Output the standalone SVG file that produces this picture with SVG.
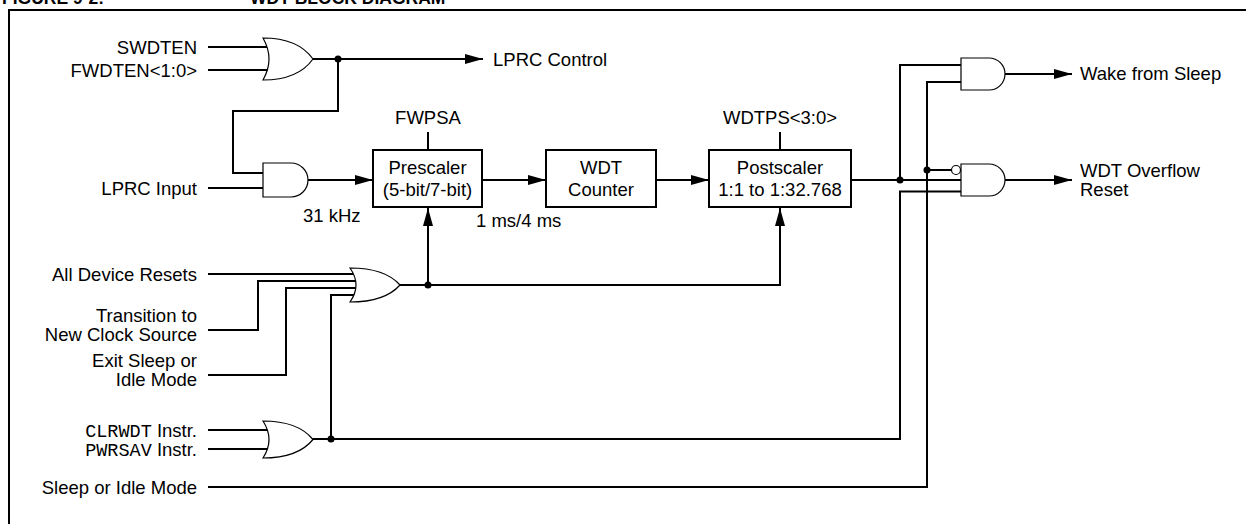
<svg xmlns="http://www.w3.org/2000/svg" width="1246" height="524" viewBox="0 0 1246 524">
<style>
text{font-family:"Liberation Sans",Arial,sans-serif;font-size:18.5px;fill:#000}
.r{text-anchor:end}
.m{text-anchor:middle}
.mono{font-family:"Liberation Mono","Courier New",monospace;font-size:18.5px}
.title{font-weight:bold;font-size:17.5px}
.w{fill:none;stroke:#000;stroke-width:2}
.g{fill:#fff;stroke:#000;stroke-width:1.2}
.box{fill:#fff;stroke:#000;stroke-width:2}
.dot{fill:#000}
</style>
<defs>
<marker id="arr" markerUnits="userSpaceOnUse" markerWidth="18" markerHeight="10" refX="18" refY="5" orient="auto">
<path d="M0,0 L18,5 L0,10 z" fill="#000"/>
</marker>
</defs>
<rect width="1246" height="524" fill="#fff"/>
<g id="title">
<text class="title" x="2" y="4">FIGURE 9-2:</text>
<text class="title" x="250" y="4">WDT BLOCK DIAGRAM</text>
</g>
<path class="w" d="M9,524 V10 H1246"/>

<g id="connectors">
<path class="w" d="M208,47 H268 M208,70 H268"/>
<path class="w" d="M313,59 H483" marker-end="url(#arr)"/>
<path class="w" d="M338,59 V111 H233 V173 H263 M208,188 H263"/>
<path class="w" d="M308,180 H373" marker-end="url(#arr)"/>
<path class="w" d="M428,132 V150 M780,132 V150"/>
<path class="w" d="M482,180 H546" marker-end="url(#arr)"/>
<path class="w" d="M656,180 H709" marker-end="url(#arr)"/>
<path class="w" d="M208,274 H357 M208,330 H258 V281 H357 M208,375 H286 V288 H357 M331,439 V295 H357"/>
<path class="w" d="M400,285 H428" />
<path class="w" d="M428,285 V208" marker-end="url(#arr)"/>
<path class="w" d="M428,285 H780 V208" marker-end="url(#arr)"/>
<path class="w" d="M208,430 H268 M208,449 H268"/>
<path class="w" d="M313,439 H900 V191.5 H961"/>
<path class="w" d="M208,487 H927 V82 H961 M927,170 H952"/>
<path class="w" d="M851,180 H961 M900,180 V65 H961"/>
<path class="w" d="M1005,74 H1072" marker-end="url(#arr)"/>
<path class="w" d="M1005,180 H1072" marker-end="url(#arr)"/>
<circle class="dot" cx="338" cy="59" r="3.5"/>
<circle class="dot" cx="428" cy="285" r="3.5"/>
<circle class="dot" cx="331" cy="439" r="3.5"/>
<circle class="dot" cx="900" cy="180" r="3.5"/>
<circle class="dot" cx="927" cy="170" r="3.5"/>
</g>

<g id="or_enable">
<path class="g" d="M263,38 Q275,59 263,80 Q298,80 313,59 Q298,38 263,38 Z"/>
</g>
<g id="and_lprc">
<path class="g" d="M263,163 H291 A17,17 0 0 1 291,197 H263 Z"/>
</g>
<g id="or_resets">
<path class="g" d="M350,268 Q362,285 350,302 Q385,302 400,285 Q385,268 350,268 Z"/>
</g>
<g id="or_clrwdt">
<path class="g" d="M263,421 Q275,439.5 263,458 Q298,458 313,439.5 Q298,421 263,421 Z"/>
</g>
<g id="and_wake">
<path class="g" d="M961,58 H989 A16,16 0 0 1 989,90 H961 Z"/>
</g>
<g id="and_reset">
<path class="g" d="M961,164 H989 A16,16 0 0 1 989,196 H961 Z"/>
<circle class="g" cx="956" cy="170" r="4.5"/>
</g>

<g id="prescaler">
<rect class="box" x="373" y="150" width="109" height="57"/>
<text class="m" x="427.5" y="174">Prescaler</text>
<text class="m" x="427.5" y="196">(5-bit/7-bit)</text>
</g>
<g id="wdt_counter">
<rect class="box" x="546" y="150" width="110" height="57"/>
<text class="m" x="601" y="174">WDT</text>
<text class="m" x="601" y="196">Counter</text>
</g>
<g id="postscaler">
<rect class="box" x="709" y="150" width="142" height="57"/>
<text class="m" x="780" y="174">Postscaler</text>
<text class="m" x="780" y="196">1:1 to 1:32.768</text>
</g>

<g id="labels">
<text class="r" x="197" y="53.5">SWDTEN</text>
<text class="r" x="197" y="76.5">FWDTEN&lt;1:0&gt;</text>
<text class="r" x="197" y="194.5">LPRC Input</text>
<text x="303" y="222">31 kHz</text>
<text x="493" y="65.5">LPRC Control</text>
<text class="m" x="428" y="124">FWPSA</text>
<text class="m" x="780" y="124">WDTPS&lt;3:0&gt;</text>
<text x="476" y="227">1 ms/4 ms</text>
<text class="r" x="197" y="280.5">All Device Resets</text>
<text class="r" x="197" y="321.5">Transition to</text>
<text class="r" x="197" y="340.5">New Clock Source</text>
<text class="r" x="197" y="366.5">Exit Sleep or</text>
<text class="r" x="197" y="385.5">Idle Mode</text>
<text class="r" x="197" y="436.5"><tspan class="mono">CLRWDT</tspan> Instr.</text>
<text class="r" x="197" y="455.5"><tspan class="mono">PWRSAV</tspan> Instr.</text>
<text class="r" x="197" y="493.5">Sleep or Idle Mode</text>
<text x="1080" y="80">Wake from Sleep</text>
<text x="1080" y="176.5">WDT Overflow</text>
<text x="1080" y="195.5">Reset</text>
</g>
</svg>
